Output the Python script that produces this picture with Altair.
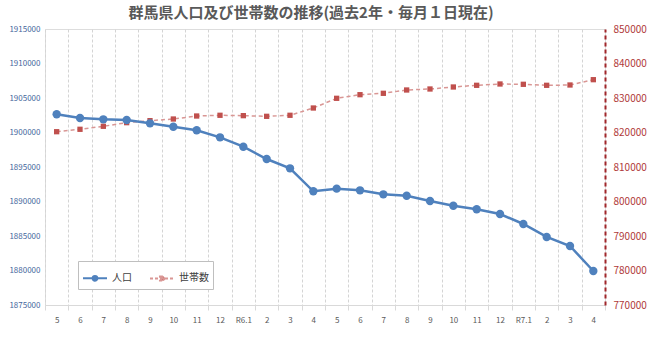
import altair as alt
import pandas as pd

months = ["5", "6", "7", "8", "9", "10", "11", "12", "R6.1", "2", "3", "4",
          "5 ", "6 ", "7 ", "8 ", "9 ", "10 ", "11 ", "12 ", "R7.1", "2 ", "3 ", "4 "]
population = [1902640, 1902100, 1901910, 1901810, 1901330, 1900840, 1900320, 1899300,
              1897940, 1896160, 1894810, 1891480, 1891860, 1891620, 1891040, 1890840,
              1890070, 1889390, 1888870, 1888190, 1886740, 1884860, 1883550, 1879930]
households = [820230, 820930, 821800, 822850, 823430, 823910, 824780, 824990,
              824880, 824690, 824990, 827100, 829910, 830960, 831360, 832320,
              832610, 833190, 833680, 834060, 833970, 833680, 833770, 835310]
series_names = ["人口", "世帯数"]
title_text = "群馬県人口及び世帯数の推移(過去2年・毎月１日現在)"

BLUE = "#4F81BD"
RED = "#C0504D"
PINK = "#D99694"
FONT = "Noto Sans CJK JP"

pop_df = pd.DataFrame({"month": months, "value": population, "series": series_names[0]})
hh_df = pd.DataFrame({"month": months, "value": households, "series": series_names[1]})

x_enc = alt.X(
    "month:N", sort=months,
    scale=alt.Scale(type="band", paddingInner=0, paddingOuter=0),
    axis=alt.Axis(title=None, labelAngle=0, labelFontSize=8, labelColor="#595959",
                  labelFont=FONT, labelExpr="trim(datum.label)",
                  tickBand="extent", grid=True, gridDash=[3, 2], gridColor="#d4d4d4",
                  ticks=True, tickColor="#d9d9d9", tickSize=5,
                  domainColor="#d9d9d9", labelPadding=6),
)

circle_path = ("M-1,0H1M0.2,0A0.2,0.2,0,1,1,-0.2,0A0.2,0.2,0,1,1,0.2,0"
               "M0.1,0A0.1,0.1,0,1,1,-0.1,0A0.1,0.1,0,1,1,0.1,0")
square_path = "M-1,0H1M-0.17,-0.17H0.17V0.17H-0.17Z"

legend = alt.Legend(
    title=None, orient="none", legendX=33, legendY=232, direction="horizontal",
    columns=2, columnPadding=14, labelFontSize=10, labelFont=FONT, labelColor="#404040",
    labelOffset=4, symbolSize=576, symbolStrokeWidth=2, symbolOpacity=1,
    strokeColor="#bfbfbf", fillColor="white", padding=4,
)

y_left = alt.Y("value:Q", scale=alt.Scale(domain=[1875000, 1915000], nice=False, zero=False),
               axis=alt.Axis(title=None, values=list(range(1875000, 1915001, 5000)), format="d",
                             labelFontSize=8, labelColor="#44679C", labelFont=FONT, ticks=False,
                             domain=False, gridColor="#e0e0e0", labelPadding=5))
y_right = alt.Y("value:Q", scale=alt.Scale(domain=[770000, 850000], nice=False, zero=False),
                axis=alt.Axis(title=None, orient="right", values=list(range(770000, 850001, 10000)),
                              format="d", labelFontSize=10, labelColor="#B03A3A", labelFont=FONT,
                              ticks=False, grid=False, domainColor="#A0262A", domainWidth=2,
                              domainDash=[4, 3], labelPadding=8))

pop_line = alt.Chart(pop_df).mark_line(color=BLUE, strokeWidth=2.5).encode(x=x_enc, y=y_left)
pop_pts = alt.Chart(pop_df).mark_point(shape="circle", filled=True, size=70, opacity=1,
                                       color=BLUE).encode(x=x_enc, y=y_left)

# legend-only layer (rows filtered out; legend built from explicit scale domains)
legend_layer = alt.Chart(pd.concat([pop_df, hh_df])).transform_filter(
    alt.datum.value < 0
).mark_point(filled=True).encode(
    x=x_enc, y=y_left,
    fill=alt.Fill("series:N", scale=alt.Scale(domain=series_names, range=[BLUE, RED]), legend=legend),
    stroke=alt.Stroke("series:N", scale=alt.Scale(domain=series_names, range=[BLUE, PINK]), legend=legend),
    shape=alt.Shape("series:N", scale=alt.Scale(domain=series_names, range=[circle_path, square_path]),
                    legend=legend),
    strokeDash=alt.StrokeDash("series:N", scale=alt.Scale(domain=series_names, range=[[1, 0], [3, 2]]),
                              legend=legend),
)

pop = alt.layer(pop_line, pop_pts, legend_layer)

hh_line = alt.Chart(hh_df).mark_line(color=PINK, strokeWidth=1.5, strokeDash=[4, 3]).encode(
    x=x_enc, y=y_right)
hh_pts = alt.Chart(hh_df).mark_point(shape="square", filled=True, size=28, opacity=1,
                                     color=RED).encode(x=x_enc, y=y_right)
hh = alt.layer(hh_line, hh_pts)

chart = alt.layer(hh, pop).resolve_scale(y="independent").properties(
    width=560, height=276,
    title=alt.TitleParams(title_text, fontSize=15, font=FONT, fontWeight="bold",
                          color="#595959", anchor="middle", offset=3, dx=-14),
    autosize=alt.AutoSizeParams(type="none"),
    padding={"left": 45, "top": 29, "right": 45, "bottom": 37},
).configure_view(stroke=None).configure(background="white")

chart.save("out.html", embed_options={"renderer": "svg", "actions": False})
